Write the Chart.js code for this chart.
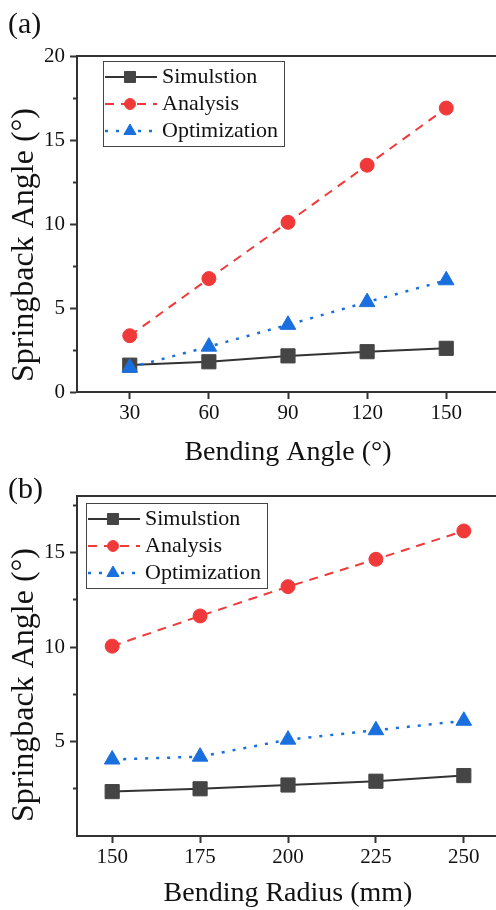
<!DOCTYPE html>
<html>
<head>
<meta charset="utf-8">
<script src="https://cdn.jsdelivr.net/npm/chart.js@4.4.1/dist/chart.umd.min.js"></script>
<style>
html, body { margin: 0; padding: 0; background: #fff; overflow: hidden; width: 496px; height: 910px; }
canvas { position: absolute; left: 0; }
#chartA { top: 0; }
#chartB { top: 460px; }
</style>
</head>
<body>
<canvas id="chartA" width="520" height="470"></canvas>
<canvas id="chartB" width="520" height="450"></canvas>
<script>
// series labels
var seriesNames = ['Simulstion', 'Analysis', 'Optimization'];

// (a) springback vs bending angle
var anglesA = [30, 60, 90, 120, 150];
var simA = [1.6, 1.8, 2.15, 2.4, 2.6];
var anaA = [3.35, 6.75, 10.1, 13.5, 16.9];
var optA = [1.45, 2.7, 4.0, 5.35, 6.65];
var yTicksA = [0, 5, 10, 15, 20];
var yMinorA = [2.5, 7.5, 12.5, 17.5];

// (b) springback vs bending radius
var radiiB = [150, 175, 200, 225, 250];
var simB = [2.35, 2.5, 2.7, 2.9, 3.2];
var anaB = [10.05, 11.65, 13.2, 14.65, 16.15];
var optB = [4.05, 4.2, 5.1, 5.6, 6.1];
var yTicksB = [5, 10, 15];
var yMinorB = [2.5, 7.5, 12.5, 17.5];

Chart.defaults.font.family = "'Liberation Serif', 'Times New Roman', serif";
Chart.defaults.color = '#111';

function pts(xs, ys) {
    return xs.map(function(x, i) { return {x: x, y: ys[i]}; });
}

// panel letter and rotated y title
var panelText = {
    id: 'panelText',
    afterDraw: function(chart, args, o) {
        var ctx = chart.ctx;
        ctx.save();
        ctx.fillStyle = '#111';
        ctx.textBaseline = 'middle';
        ctx.textAlign = 'left';
        ctx.font = "30px 'Liberation Serif', serif";
        ctx.fillText(o.label, o.labelX, o.labelY);
        ctx.translate(o.titleX, o.titleY);
        ctx.rotate(-Math.PI / 2);
        ctx.textAlign = 'center';
        ctx.font = "32px 'Liberation Serif', serif";
        ctx.fillText(o.title, 0, 0);
        ctx.restore();
    }
};

// boxed legend with line + marker samples
var boxLegend = {
    id: 'boxLegend',
    afterDraw: function(chart, args, o) {
        var ctx = chart.ctx;
        var area = chart.chartArea;
        var bx = area.left + o.dx, by = area.top + o.dy;
        ctx.save();
        ctx.strokeStyle = '#444';
        ctx.lineWidth = 1;
        ctx.strokeRect(bx + 0.5, by + 0.5, 181, 85);
        chart.data.datasets.forEach(function(ds, i) {
            var yy = by + 16 + i * 27;
            ctx.setLineDash(ds.borderDash || []);
            ctx.strokeStyle = ds.borderColor;
            ctx.lineWidth = ds.borderWidth;
            ctx.beginPath();
            ctx.moveTo(bx + 2, yy);
            ctx.lineTo(bx + 54, yy);
            ctx.stroke();
            ctx.setLineDash([]);
            ctx.fillStyle = ds.pointBackgroundColor;
            ctx.strokeStyle = ds.pointBorderColor;
            ctx.lineWidth = 1;
            Chart.helpers.drawPoint(ctx, {pointStyle: ds.pointStyle, radius: ds.pointRadius * 0.78, rotation: 0, borderWidth: 1}, bx + 27, yy);
            ctx.fillStyle = '#111';
            ctx.font = "22px 'Liberation Serif', serif";
            ctx.textAlign = 'left';
            ctx.textBaseline = 'middle';
            ctx.fillText(ds.label, bx + 59, yy);
        });
        ctx.restore();
    }
};

function makeDatasets(xs, s, a, p) {
    return [{
        label: seriesNames[0], data: pts(xs, s), order: 2,
        borderColor: '#333', borderWidth: 2,
        pointStyle: 'rect', pointRadius: 10,
        pointBackgroundColor: '#454545', pointBorderColor: '#454545', pointBorderWidth: 1
    }, {
        label: seriesNames[1], data: pts(xs, a), order: 1,
        borderColor: '#f03a3a', borderWidth: 2, borderDash: [9, 7],
        pointStyle: 'circle', pointRadius: 7,
        pointBackgroundColor: '#f03a3a', pointBorderColor: '#f03a3a', pointBorderWidth: 1
    }, {
        label: seriesNames[2], data: pts(xs, p), order: 0,
        borderColor: '#1a6fdf', borderWidth: 2.5, borderDash: [3, 8],
        pointStyle: 'triangle', pointRadius: 9,
        pointBackgroundColor: '#1a6fdf', pointBorderColor: '#1a6fdf', pointBorderWidth: 1
    }];
}

function makeChart(id, c) {
    return new Chart(document.getElementById(id), {
        type: 'line',
        data: {datasets: makeDatasets(c.xs, c.s, c.a, c.p)},
        plugins: [panelText, boxLegend],
        options: {
            responsive: false,
            animation: false,
            devicePixelRatio: 1,
            layout: {padding: {top: c.top, left: 0, right: 21, bottom: 0}},
            elements: {line: {tension: 0}},
            plugins: {
                legend: {display: false},
                tooltip: {enabled: false},
                panelText: c.text,
                boxLegend: c.legend
            },
            scales: {
                x: {
                    type: 'linear', position: 'bottom', min: c.xMin, max: c.xMax,
                    afterBuildTicks: function(s) { s.ticks = c.xs.map(function(v) { return {value: v}; }); },
                    afterFit: function(s) { s.height = c.xHeight; },
                    border: {display: true, color: '#333', width: 2},
                    grid: {drawOnChartArea: false, drawTicks: true, tickLength: 7, tickColor: '#333', tickWidth: 2},
                    ticks: {color: '#111', font: {size: 21}, padding: 2, maxRotation: 0, autoSkip: false},
                    title: {display: true, text: c.xTitle, color: '#111', font: {size: 28}, padding: {top: 0, bottom: c.xTitlePad}}
                },
                xTop: {
                    type: 'linear', position: 'top', min: c.xMin, max: c.xMax,
                    afterFit: function(s) { s.height = 0; },
                    border: {display: true, color: '#333', width: 2},
                    grid: {drawOnChartArea: false, drawTicks: false},
                    ticks: {display: false}
                },
                y: {
                    type: 'linear', position: 'left', weight: 1, min: c.yMin, max: c.yMax,
                    afterBuildTicks: function(s) { s.ticks = c.yTicks.map(function(v) { return {value: v}; }); },
                    afterFit: function(s) { s.width = 77; },
                    border: {display: true, color: '#333', width: 2},
                    grid: {drawOnChartArea: false, drawTicks: true, tickLength: 7, tickColor: '#333', tickWidth: 2},
                    ticks: {color: '#111', font: {size: 21}, padding: 5}
                },
                yMinor: {
                    type: 'linear', position: 'left', weight: 0, min: c.yMin, max: c.yMax,
                    afterBuildTicks: function(s) { s.ticks = c.yMinor.map(function(v) { return {value: v}; }); },
                    afterFit: function(s) { s.width = 0; },
                    border: {display: false},
                    grid: {drawOnChartArea: false, drawTicks: true, tickLength: 4, tickColor: '#333', tickWidth: 2},
                    ticks: {display: false}
                }
            }
        }
    });
}

makeChart('chartA', {
    xs: anglesA, s: simA, a: anaA, p: optA,
    xMin: 10, xMax: 170, yMin: 0, yMax: 20,
    yTicks: yTicksA, yMinor: yMinorA,
    top: 56, xHeight: 78, xTitlePad: 1,
    xTitle: 'Bending Angle (°)',
    text: {label: '(a)', labelX: 8, labelY: 25, title: 'Springback Angle (°)', titleX: 25, titleY: 245},
    legend: {dx: 26, dy: 5}
});

makeChart('chartB', {
    xs: radiiB, s: simB, a: anaB, p: optB,
    xMin: 140, xMax: 260, yMin: 0, yMax: 18,
    yTicks: yTicksB, yMinor: yMinorB,
    top: 36, xHeight: 74, xTitlePad: 0,
    xTitle: 'Bending Radius (mm)',
    text: {label: '(b)', labelX: 8, labelY: 30, title: 'Springback Angle (°)', titleX: 25, titleY: 225},
    legend: {dx: 9, dy: 7}
});
</script>
</body>
</html>
